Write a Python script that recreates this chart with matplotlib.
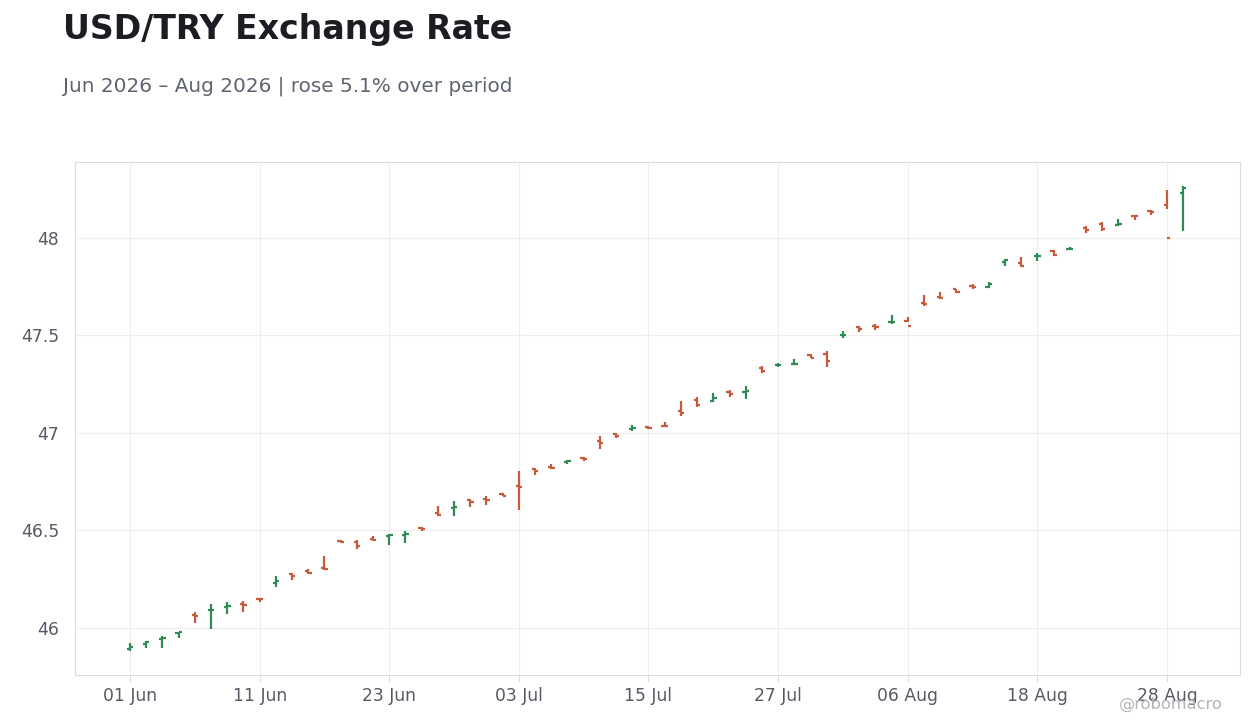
import numpy as np
import pandas as pd
import matplotlib
matplotlib.use('Agg')
import matplotlib.pyplot as plt

# daily OHLC, business days from 01 Jun 2026
dates = pd.bdate_range('2026-06-01', periods=66)
opens = [45.89, 45.918, 45.943, 45.976, 46.067, 46.090, 46.105, 46.124, 46.150, 46.232,
         46.277, 46.292, 46.309, 46.448, 46.438, 46.454, 46.473, 46.476, 46.510, 46.588,
         46.615, 46.655, 46.660, 46.687, 46.727, 46.814, 46.823, 46.851, 46.869, 46.960,
         46.993, 47.022, 47.028, 47.038, 47.111, 47.168, 47.164, 47.210, 47.210, 47.333,
         47.349, 47.353, 47.400, 47.404, 47.501, 47.542, 47.547, 47.568, 47.576, 47.668,
         47.695, 47.737, 47.755, 47.750, 47.877, 47.870, 47.906, 47.932, 47.944, 48.053,
         48.073, 48.067, 48.114, 48.140, 48.171, 48.231]
highs = [45.920, 45.933, 45.959, 45.981, 46.080, 46.123, 46.132, 46.138, 46.152, 46.267,
         46.284, 46.303, 46.369, 46.451, 46.451, 46.472, 46.482, 46.497, 46.518, 46.626,
         46.651, 46.662, 46.677, 46.692, 46.805, 46.821, 46.841, 46.862, 46.877, 46.985,
         47.000, 47.041, 47.036, 47.056, 47.164, 47.185, 47.205, 47.221, 47.241, 47.344,
         47.359, 47.379, 47.405, 47.421, 47.523, 47.549, 47.559, 47.605, 47.593, 47.708,
         47.723, 47.740, 47.762, 47.776, 47.890, 47.904, 47.925, 47.938, 47.955, 48.064,
         48.081, 48.100, 48.119, 48.144, 48.246, 48.267]
lows = [45.880, 45.899, 45.899, 45.950, 46.027, 45.995, 46.072, 46.082, 46.135, 46.212,
        46.246, 46.277, 46.297, 46.434, 46.407, 46.448, 46.426, 46.437, 46.499, 46.574,
        46.574, 46.622, 46.632, 46.674, 46.605, 46.786, 46.817, 46.843, 46.858, 46.918,
        46.976, 47.010, 47.021, 47.032, 47.089, 47.135, 47.159, 47.186, 47.174, 47.309,
        47.340, 47.349, 47.383, 47.340, 47.489, 47.520, 47.528, 47.559, 47.571, 47.651,
        47.687, 47.719, 47.738, 47.742, 47.856, 47.853, 47.884, 47.909, 47.938, 48.027,
        48.038, 48.064, 48.090, 48.118, 48.149, 48.036]
closes = [45.900, 45.927, 45.947, 45.979, 46.063, 46.094, 46.110, 46.118, 46.148, 46.243,
          46.267, 46.284, 46.301, 46.441, 46.422, 46.452, 46.477, 46.481, 46.508, 46.579,
          46.619, 46.645, 46.656, 46.678, 46.722, 46.807, 46.821, 46.854, 46.867, 46.950,
          46.985, 47.026, 47.027, 47.036, 47.103, 47.145, 47.181, 47.200, 47.214, 47.319,
          47.351, 47.356, 47.386, 47.369, 47.504, 47.532, 47.544, 47.570, 47.550, 47.662,
          47.692, 47.725, 47.749, 47.764, 47.886, 47.858, 47.908, 47.915, 47.946, 48.041,
          48.044, 48.073, 48.113, 48.133, 47.999, 48.258]

UP = '#2e8b57'
DOWN = '#c85a3c'

if __name__ == '__main__':
    fig = plt.figure(figsize=(12.6, 7.28), dpi=100)
    ax = fig.add_axes([0.0595, 0.073, 0.9245, 0.7045])

    x = np.arange(len(dates))
    o = np.array(opens)
    c = np.array(closes)
    colors = [UP if cc >= oo else DOWN for oo, cc in zip(o, c)]
    tw = 0.2
    ax.vlines(x, lows, highs, colors=colors, linewidth=1.6, zorder=3)
    ax.hlines(o, x - tw, x, colors=colors, linewidth=1.6, zorder=3)
    ax.hlines(c, x, x + tw, colors=colors, linewidth=1.6, zorder=3)

    ax.set_xlim(-3.4, 68.5)
    ax.set_ylim(45.759, 48.39)
    ticks = x[::8]
    ax.set_xticks(ticks, [d.strftime('%d %b') for d in dates[ticks]])
    ax.set_yticks([46, 46.5, 47, 47.5, 48], ['46', '46.5', '47', '47.5', '48'])
    ax.grid(color='#eeeeee', linewidth=0.8, zorder=0)
    ax.set_axisbelow(True)
    for s in ax.spines.values():
        s.set_color('#dddddd')
    ax.tick_params(axis='x', colors='#dddddd', labelcolor='#555a64', labelsize=12.3,
                   length=5, pad=4)
    ax.tick_params(axis='y', length=0, labelcolor='#555a64', labelsize=12.3, pad=11.5)

    fig.text(0.05, 0.96, 'USD/TRY Exchange Rate', fontsize=23.9, fontweight='bold',
             color='#1c1c22', va='center')
    fig.text(0.05, 0.882, 'Jun 2026 \u2013 Aug 2026 | rose 5.1% over period', fontsize=14.4,
             color='#5f6370', va='center')
    fig.text(0.97, 0.032, '@robomacro', fontsize=11.7, color='#b4b4b8', ha='right', va='center')

    plt.savefig('out.png', dpi=100)
    plt.close()
